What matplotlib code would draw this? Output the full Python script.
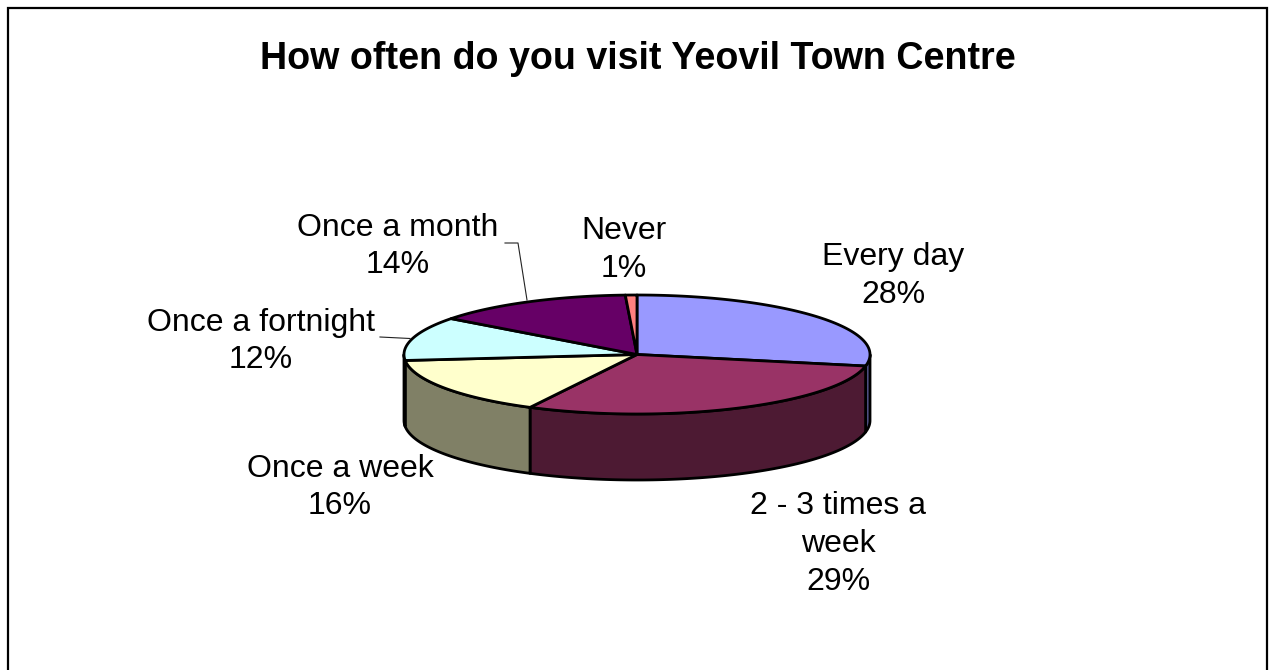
import numpy as np
import matplotlib
matplotlib.use("Agg")
import matplotlib.pyplot as plt
from matplotlib.patches import Polygon

plt.rcParams["font.family"] = ["Liberation Sans", "DejaVu Sans"]

title = "How often do you visit Yeovil Town Centre"
categories = ["Every day", "2 - 3 times a\nweek", "Once a week",
              "Once a fortnight", "Once a month", "Never"]
values = [28.1, 29.49, 15.81, 11.9, 13.9, 0.8]
top_colors = ["#9999FF", "#993366", "#FFFFCC", "#CCFFFF", "#660066", "#FF8080"]
side_colors = ["#4D4D80", "#4D1A33", "#808066", "#668080", "#330033", "#804040"]

# where each label sits, in pixels
label_pos = [(893, 276), (838, 544), (340, 487.5), (261, 341.5), (398, 246.5), (624, 250)]

cx, cy, rx, ry, depth = 637, 354.5, 233, 59.5, 66


def arc(a, b, dy=0):
    # angles in degrees, clockwise from 12 o'clock
    t = np.radians(np.linspace(a, b, 120))
    return np.column_stack([cx + rx * np.sin(t), cy - ry * np.cos(t) + dy])


fig = plt.figure(figsize=(12.7, 6.7), dpi=100)
ax = fig.add_axes([0, 0, 1, 1])
ax.set_xlim(0, 1270)
ax.set_ylim(670, 0)
ax.axis("off")

# frame, open at the bottom
ax.plot([8, 8, 1267, 1267], [670, 8, 8, 670], color="black", lw=1.6, solid_joinstyle="miter")

edges = np.cumsum([0] + values) / sum(values) * 360

# sides first
for i in range(len(values)):
    a = max(edges[i], 90)
    b = min(edges[i + 1], 270)
    if a >= b:
        continue
    pts = np.vstack([arc(a, b), arc(a, b, depth)[::-1]])
    ax.add_patch(Polygon(pts, closed=True, fc=side_colors[i], ec="black", lw=2, joinstyle="round"))

# then the top
for i in range(len(values)):
    pts = np.vstack([[[cx, cy]], arc(edges[i], edges[i + 1])])
    ax.add_patch(Polygon(pts, closed=True, fc=top_colors[i], ec="black", lw=2, joinstyle="round"))

# leader lines
ax.plot([505, 518, 527], [243, 243, 300], color="#222222", lw=0.8)
ax.plot([380, 410], [337, 338.5], color="#222222", lw=0.8)

for name, v, (x, y) in zip(categories, values, label_pos):
    ax.text(x, y, f"{name}\n{round(v)}%", ha="center", va="center", fontsize=23,
            linespacing=1.33, color="black")

ax.text(638, 59, title, ha="center", va="center", fontsize=27.1, fontweight="bold", color="black")

fig.savefig("out.png", dpi=100)
